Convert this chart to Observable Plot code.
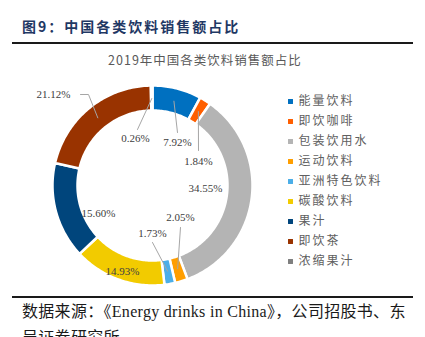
<!DOCTYPE html>
<html>
<head>
<meta charset="utf-8">
<script src="https://cdn.jsdelivr.net/npm/d3@7"></script>
<script src="https://cdn.jsdelivr.net/npm/@observablehq/plot@0.6"></script>
<style>
  html, body { margin: 0; padding: 0; background: #fff; }
  #wrap { position: relative; width: 425px; height: 337px; overflow: hidden; background: #fff; }
  .abs { position: absolute; }
  #title { left: 22px; top: 16px; font: bold 14px "Noto Sans CJK SC", sans-serif; line-height: 20px; color: #1F3864; letter-spacing: 2px; white-space: nowrap; }
  .rule { left: 12px; width: 401px; height: 2px; background: #1a1a1a; }
  #subtitle { left: 0; width: 410px; top: 51px; text-align: center; font: 12.5px "Noto Sans CJK SC", sans-serif; line-height: 18px; color: #595959; letter-spacing: 1px; white-space: nowrap; }
  #chart { left: 0; top: 66px; }
  #legend { left: 280px; top: 75px; }
  #source { left: 22px; top: 299px; font: 16px "Liberation Serif", "Noto Sans CJK SC", serif; line-height: 26px; color: #1a1a1a; letter-spacing: 0.3px; white-space: nowrap; }
</style>
</head>
<body>
<div id="wrap">
  <div id="title" class="abs">图9：中国各类饮料销售额占比</div>
  <div class="abs rule" style="top:42px"></div>
  <div id="subtitle" class="abs">2019年中国各类饮料销售额占比</div>
  <div id="chart" class="abs"></div>
  <div id="legend" class="abs"></div>
  <div class="abs rule" style="top:296px"></div>
  <div id="source" class="abs">数据来源：《Energy drinks in China》，公司招股书、东<br>吴证券研究所</div>
</div>
<script>
// ---- data ----
const categories = ["能量饮料","即饮咖啡","包装饮用水","运动饮料","亚洲特色饮料","碳酸饮料","果汁","即饮茶","浓缩果汁"];
const shares = [7.92, 1.84, 34.55, 2.05, 1.73, 14.93, 15.60, 21.12, 0.26];
const colors = ["#0070C0","#FF5F00","#B4B4B4","#FF9E00","#4BAEE8","#F2CB00","#00457C","#993300","#7F7F7F"];
const labels = shares.map(v => v.toFixed(2) + "%");

// ---- label layout (data units of the donut, outer radius = 1) ----
const labelXY = [[0.25,0.43],[0.46,0.24],[0.53,-0.03],[0.28,-0.32],[0,-0.48],[-0.30,-0.86],[-0.54,-0.28],[-0.99,0.91],[-0.17,0.47]];
const leaderEnd = [[0.25,0.53],[0.46,0.35],null,[0.28,-0.42],[0,-0.57],null,null,[-0.72,0.91],[-0.15,0.56]];
const leaderVia = [null,null,null,null,null,null,null,[-0.64,0.91],null];

const R_OUT = 1, R_IN = 0.75, R_MID = 0.87;
const total = d3.sum(shares);
const pt = (r, a) => [r * Math.sin(a), r * Math.cos(a)];

// slice polygons
const slicePts = [];
const mids = [];
let acc = 0;
categories.forEach((c, i) => {
  const a0 = acc / total * 2 * Math.PI;
  acc += shares[i];
  const a1 = acc / total * 2 * Math.PI;
  mids.push((a0 + a1) / 2);
  const n = Math.max(2, Math.ceil((a1 - a0) / (Math.PI / 180)));
  const ring = [];
  for (let k = 0; k <= n; k++) ring.push(pt(R_OUT, a0 + (a1 - a0) * k / n));
  for (let k = n; k >= 0; k--) ring.push(pt(R_IN, a0 + (a1 - a0) * k / n));
  ring.push(ring[0]);
  ring.forEach(([x, y]) => slicePts.push({cat: c, x, y}));
});

// leader lines
const leaderPts = [];
categories.forEach((c, i) => {
  if (!leaderEnd[i]) return;
  const [sx, sy] = pt(R_MID, mids[i]);
  leaderPts.push({cat: c, x: sx, y: sy});
  if (leaderVia[i]) leaderPts.push({cat: c, x: leaderVia[i][0], y: leaderVia[i][1]});
  leaderPts.push({cat: c, x: leaderEnd[i][0], y: leaderEnd[i][1]});
});

const labelData = categories.map((c, i) => ({cat: c, label: labels[i], x: labelXY[i][0], y: labelXY[i][1]}));

const chart = Plot.plot({
  width: 284,
  height: 230,
  x: {domain: [-1, 1], range: [52, 252], axis: null},
  y: {domain: [-1, 1], range: [219, 19], axis: null},
  color: {domain: categories, range: colors},
  style: {fontFamily: "Liberation Serif, serif", background: "transparent"},
  marks: [
    Plot.line(slicePts, {x: "x", y: "y", z: "cat", fill: "cat", stroke: "white", strokeWidth: 2.5, curve: "linear"}),
    Plot.line(leaderPts, {x: "x", y: "y", z: "cat", stroke: "#A6A6A6", strokeWidth: 1}),
    Plot.text(labelData, {x: "x", y: "y", text: "label", fontSize: 11, fill: "#404040", textAnchor: "middle", lineAnchor: "middle"})
  ]
});
document.getElementById("chart").appendChild(chart);

const legend = Plot.plot({
  width: 145,
  height: 212,
  x: {domain: [0, 1], range: [10, 110], axis: null},
  y: {type: "point", domain: categories, range: [12, 200], axis: null},
  color: {domain: categories, range: colors},
  style: {fontFamily: "Noto Sans CJK SC, sans-serif", background: "transparent"},
  marks: [
    Plot.dot(categories, {x: () => 0, y: d => d, fill: d => d, symbol: "square", r: 2.8, stroke: null}),
    Plot.text(categories, {x: () => 0, y: d => d, text: d => d, dx: 8, textAnchor: "start", fontSize: 12, fill: "#606060"})
  ]
});
legend.querySelectorAll("text").forEach(t => t.style.letterSpacing = "2px");
document.getElementById("legend").appendChild(legend);
</script>
</body>
</html>
